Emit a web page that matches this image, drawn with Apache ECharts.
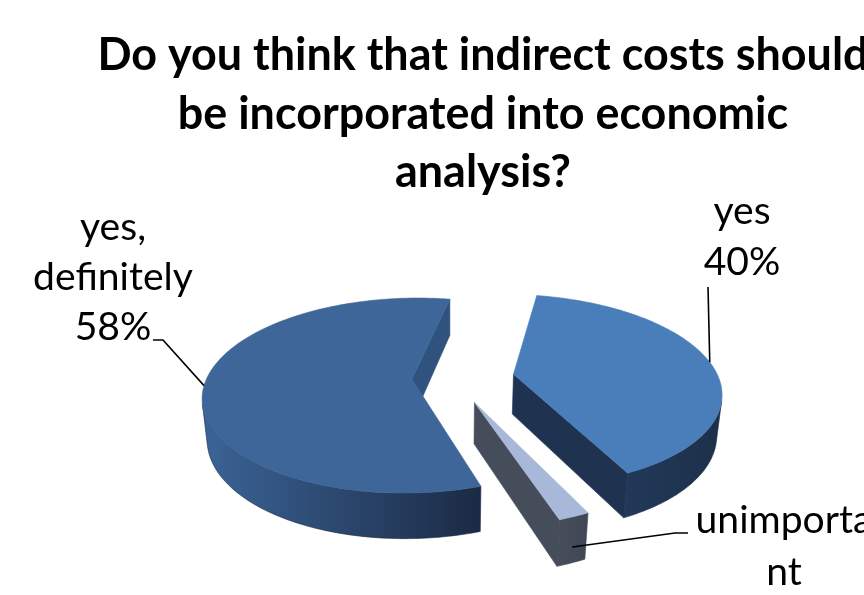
<!DOCTYPE html>
<html><head><meta charset="utf-8">
<script src="https://cdn.jsdelivr.net/npm/echarts@6/dist/echarts.min.js"></script>
<style>html,body{margin:0;padding:0;background:#fff}#c{width:864px;height:595px}</style>
</head><body><div id="c"></div>
<script>
// ---- data ----
const titleLines = ['Do you think that indirect costs should', 'be incorporated into economic', 'analysis?'];
const categories = ['yes, definitely', 'yes', 'unimportant'];
const values = [58, 40, 2];
const labelNameLines = [['yes,', 'definitely'], ['yes'], ['unimporta', 'nt']];

// ---- style / layout ----
const FONT = 'Lato';
const startAngle = 161.7;            // first slice start, degrees clockwise from 12 o'clock
const explode = [0.2, 0.3, 0.27];
const colors = [
  {top: '#3E6698', cut: '#30527F', wall: ['#3B6497', '#1B2A44']},
  {top: '#4A7EBB', cut: '#1F3350', wall: ['#22395A', '#1D3049']},
  {top: '#A7B8D8', cut: '#454C5A', wall: ['#464D5B', '#404654']}
];
const VIEW = {cx: 452.9, cy: 377.8, S: 205, D: 5.27, sa: 0.46, ca: 0.888, h: 0.225};
const labelLayout = [
  {x: 113, baselines: [241, 291, 341], path: [[153, 340], [163, 340]], anchorY: 0},
  {x: 742, baselines: [225, 276], path: [[708, 287]], anchorY: 0},
  {x: 784, baselines: [534, 586, 638], path: [[688, 533], [675, 533]], anchorY: -0.65}
];

function measure(text, weight, size) {
  const ctx = document.createElement('canvas').getContext('2d');
  ctx.font = weight + ' ' + size + 'px ' + FONT;
  return ctx.measureText(text).width;
}
const titleSize = 610 / measure(titleLines[1], 'bold', 100) * 100;
const labelSize = 160 / measure('definitely', 'normal', 100) * 100;

function proj(x, y, z) {
  const d = -z * VIEW.ca - y * VIEW.sa;
  const f = VIEW.D / (VIEW.D + d);
  return [VIEW.cx + VIEW.S * f * x, VIEW.cy + VIEW.S * f * (z * VIEW.sa - y * VIEW.ca)];
}
const cam = [0, VIEW.D * VIEW.sa, VIEW.D * VIEW.ca];
function visible(n, p) {
  return n[0] * (cam[0] - p[0]) + n[1] * (cam[1] - p[1]) + n[2] * (cam[2] - p[2]) > 0;
}
const total = values.reduce((a, b) => a + b, 0);

function renderItem(params, api) {
  const i = params.dataIndex;
  let cum = 0;
  for (let k = 0; k < i; k++) cum += values[k];
  const v = api.value(0);
  const rad = Math.PI / 180;
  const t0 = (startAngle + 360 * cum / total) * rad;
  const t1 = (startAngle + 360 * (cum + v) / total) * rad;
  const tm = (t0 + t1) / 2;
  const ox = explode[i] * Math.sin(tm), oz = -explode[i] * Math.cos(tm);
  const h = VIEW.h;
  const wp = (t, y) => [ox + Math.sin(t), y, oz - Math.cos(t)];
  const rim = (t, y) => proj(ox + Math.sin(t), y, oz - Math.cos(t));
  const aT = proj(ox, 0, oz), aB = proj(ox, -h, oz);
  const col = colors[i];
  const children = [];
  const zb = i * 20;
  const poly = (pts, fill, z) => ({type: 'polygon', shape: {points: pts}, z2: z,
    style: {fill: fill, stroke: typeof fill === 'string' ? fill : col.wall[1], lineWidth: 0.6}});

  // cut faces
  const faces = [
    {t: t0, n: [-Math.cos(t0), 0, -Math.sin(t0)]},
    {t: t1, n: [Math.cos(t1), 0, Math.sin(t1)]}
  ];
  faces.forEach(fc => {
    const p = [ox + 0.5 * Math.sin(fc.t), -h / 2, oz - 0.5 * Math.cos(fc.t)];
    if (visible(fc.n, p)) {
      children.push(poly([aT, rim(fc.t, 0), rim(fc.t, -h), aB], col.cut, zb + 1));
    }
  });

  // outer wall (visible runs)
  const steps = Math.max(2, Math.ceil((t1 - t0) / rad));
  const dt = (t1 - t0) / steps;
  let run = null;
  const runs = [];
  for (let j = 0; j < steps; j++) {
    const a = t0 + j * dt, b = a + dt, m = (a + b) / 2;
    const vis = visible([Math.sin(m), 0, -Math.cos(m)], wp(m, -h / 2));
    if (vis) {
      if (!run) { run = [a, b]; runs.push(run); } else run[1] = b;
    } else run = null;
  }
  runs.forEach(r => {
    const n = Math.max(2, Math.ceil((r[1] - r[0]) / rad));
    const top = [], bot = [];
    for (let j = 0; j <= n; j++) {
      const t = r[0] + (r[1] - r[0]) * j / n;
      top.push(rim(t, 0));
      bot.push(rim(t, -h));
    }
    const grad = new echarts.graphic.LinearGradient(0, 0, 1, 0,
      [{offset: 0, color: col.wall[0]}, {offset: 1, color: col.wall[1]}]);
    children.push(poly(top.concat(bot.reverse()), grad, zb + 2));
  });

  // top face
  const n = Math.max(2, Math.ceil((t1 - t0) / rad));
  const topPts = [aT];
  for (let j = 0; j <= n; j++) topPts.push(rim(t0 + (t1 - t0) * j / n, 0));
  children.push(poly(topPts, col.top, zb + 3));

  // label + leader line
  const L = labelLayout[i];
  const anchor = rim(tm, L.anchorY * h);
  children.push({type: 'polyline', z2: 100,
    shape: {points: L.path.concat([anchor])},
    style: {fill: null, stroke: '#000', lineWidth: 1.6}});
  const lines = labelNameLines[i].concat([v + '%']);
  lines.forEach((s, k) => {
    children.push({type: 'text', z2: 101, x: L.x, y: L.baselines[k] - 0.36 * labelSize,
      style: {text: s, fill: '#000', font: 'normal ' + labelSize.toFixed(1) + 'px ' + FONT,
        align: 'center', verticalAlign: 'middle'}});
  });

  return {type: 'group', children: children};
}

const titleBaselines = [72, 130.5, 189];
const chart = echarts.init(document.getElementById('c'), null, {renderer: 'canvas'});
chart.setOption({
  animation: false,
  backgroundColor: '#fff',
  graphic: titleLines.map((s, k) => ({
    type: 'text', x: 483, y: titleBaselines[k] - 0.36 * titleSize,
    style: {text: s, fill: '#000', font: 'bold ' + titleSize.toFixed(1) + 'px ' + FONT,
      align: 'center', verticalAlign: 'middle'}
  })),
  series: [{
    type: 'custom',
    coordinateSystem: 'none',
    silent: true,
    renderItem: renderItem,
    data: values.map((v, i) => ({name: categories[i], value: [v, i]}))
  }]
});
</script>
</body></html>
